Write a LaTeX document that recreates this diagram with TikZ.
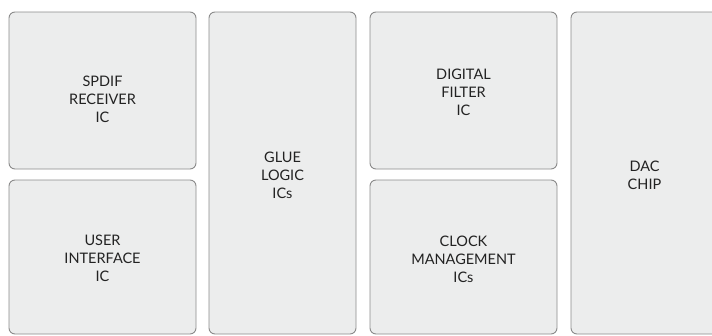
\documentclass[tikz,border=0pt]{standalone}
\usepackage{fontspec}
\setmainfont{Lato}
\usepackage{tikz}
\definecolor{chipfill}{HTML}{ECEDED}
\definecolor{chipline}{HTML}{8A8A8A}
\definecolor{chipink}{HTML}{222222}

\begin{document}
\begin{tikzpicture}[x=1pt,y=-1pt,
  chip/.style={draw=chipline,fill=chipfill,line width=.9pt,rounded corners=6pt,inner sep=0pt},
  chiptext/.style={text=chipink,align=center,inner sep=0pt,font=\fontsize{14.5}{18}\selectfont}]

\useasboundingbox (0,0) rectangle (712,335);
\clip (0,0) rectangle (712,335);

%left column
\node[chip,minimum width=187pt,minimum height=157pt] (spdif) at (102.5,90.5) {};
\node[chip,minimum width=187pt,minimum height=154pt] (ui) at (102.5,257) {};
\node[chiptext] (spdiftxt) at ([yshift=-8.5pt]spdif.center) {SPDIF\\RECEIVER\\IC};
\node[chiptext] (uitxt) at ([yshift=-1pt]ui.center) {USER\\INTERFACE\\IC};

%glue logic
\node[chip,minimum width=147pt,minimum height=322pt] (glue) at (282.5,173) {};
\node[chiptext] (gluetxt) at ([yshift=-2pt]glue.center) {GLUE\\LOGIC\\ICs};

%third column
\node[chip,minimum width=187pt,minimum height=157pt] (filter) at (463.5,90.5) {};
\node[chip,minimum width=187pt,minimum height=154pt] (clock) at (463.5,257) {};
\node[chiptext] (filtertxt) at ([yshift=-1.5pt]filter.center) {DIGITAL\\FILTER\\IC};
\node[chiptext] (clocktxt) at ([yshift=-2pt]clock.center) {CLOCK\\MANAGEMENT\\ICs};

%dac
\node[chip,minimum width=147pt,minimum height=322pt] (dac) at (644.5,173) {};
\node[chiptext] (dactxt) at ([yshift=-2pt]dac.center) {DAC\\CHIP};

\end{tikzpicture}
\end{document}
